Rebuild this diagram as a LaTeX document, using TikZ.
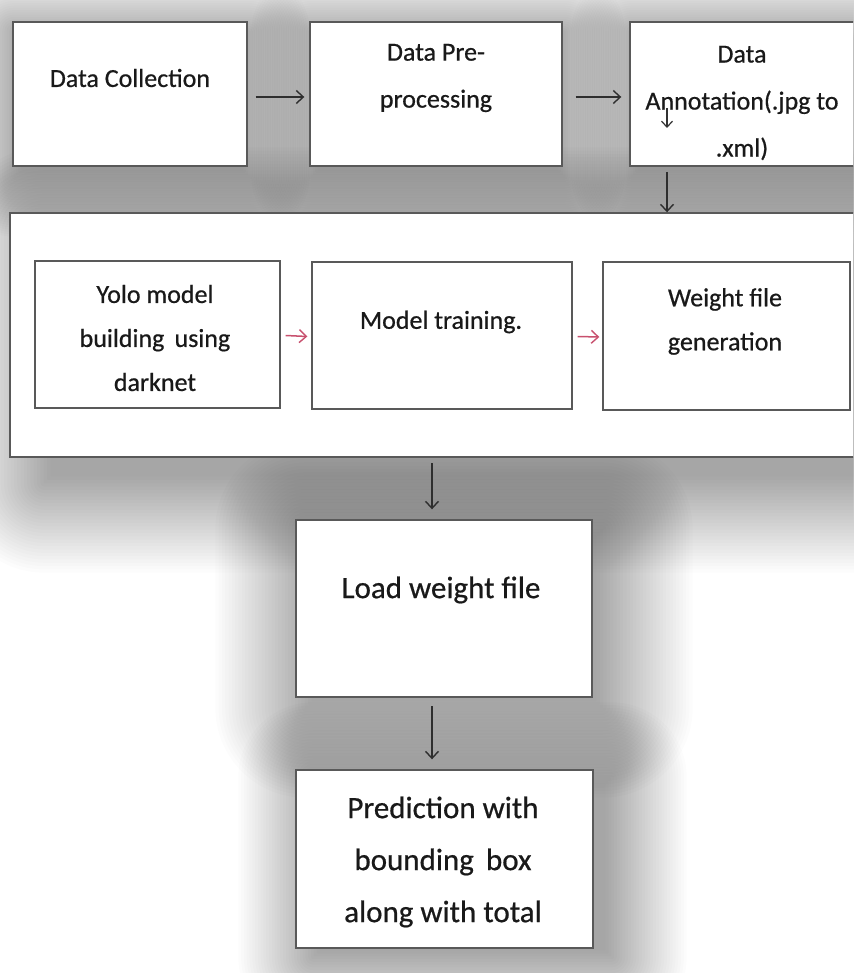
\documentclass[tikz,border=0pt]{standalone}
\usepackage{fontspec}
\setmainfont{Carlito}[FakeBold=0.6]
\usetikzlibrary{arrows.meta,backgrounds,calc}
\definecolor{redarr}{HTML}{C8506E}
\tikzset{
  box/.style={draw=black!65, line width=1.4pt, fill=white, inner sep=0pt},
  txt/.style={align=center, inner sep=0pt, text=black!90},
  fa/.style={font=\fontsize{26}{47}\selectfont},
  fb/.style={font=\fontsize{26}{44}\selectfont},
  fc/.style={font=\fontsize{31}{52}\selectfont},
  arr/.style={-{Straight Barb[length=7pt,width=13pt,line width=1.4pt]}, line width=1.5pt, draw=black!82},
  redar/.style={arr, draw=redarr},
}
% #1 node, #2 dx, #3 dy, #4 max spread, #5 opacity per layer
\newcommand\blurshadow[5]{%
  \foreach \i in {0,...,29}{%
    \pgfmathsetmacro\e{-6+(#4+6)*\i/29}%
    \pgfmathsetmacro\nx{#2-\e}%
    \pgfmathsetmacro\ny{#3-\e}%
    \pgfmathsetmacro\sx{#2+\e}%
    \pgfmathsetmacro\sy{#3+\e}%
    \pgfmathsetmacro\rc{max(1,\e)}%
    \fill[black,opacity=#5,rounded corners=\rc pt]
      ([shift={(\nx,\ny)}]#1.north west) rectangle ([shift={(\sx,\sy)}]#1.south east);
  }%
}
\begin{document}
\begin{tikzpicture}[x=1pt,y=-1pt]
\useasboundingbox (0,0) rectangle (853,973);
\clip (0,0) rectangle (853,973);
% top row
\node[box,minimum width=234pt,minimum height=144pt] (dc) at (130,94) {};
\node[box,minimum width=252pt,minimum height=144pt] (dp) at (436,94) {};
\node[box,minimum width=232pt,minimum height=144pt] (da) at (746,94) {};
\node[txt,fa] (tdc) at (130,78) {Data Collection};
\node[txt,fa] (tdp) at (436,78) {Data Pre-\\processing};
\node[txt,fa] (tda) at (742,103) {Data\\Annotation(.jpg to\\.xml)};
% container
\node[box,minimum width=860pt,minimum height=244pt] (cont) at (440,335) {};
\node[box,minimum width=245pt,minimum height=147pt] (yolo) at (157.5,334.5) {};
\node[box,minimum width=260pt,minimum height=147pt] (mt) at (442,335.5) {};
\node[box,minimum width=247pt,minimum height=148pt] (wf) at (726.5,336) {};
\node[txt,fb] (tyolo) at (155,338) {Yolo model\\building\, using\\darknet};
\node[txt,fb] (tmt) at (441,322) {Model training.};
\node[txt,fb] (twf) at (725,321.5) {Weight file\\generation};
% bottom
\node[box,minimum width=296pt,minimum height=177pt] (lw) at (444,608.5) {};
\node[box,minimum width=297pt,minimum height=178pt] (pr) at (444.5,859) {};
\node[txt,fc] (tlw) at (441,590) {Load weight file};
\node[txt,fc] (tpr) at (443,862) {Prediction with\\bounding\, box\\along with total};
% connectors
\draw[arr] ([xshift=8pt,yshift=-3pt]dc.east) -- ([xshift=-5pt,yshift=-3pt]dp.west);
\draw[arr] ([xshift=13pt,yshift=-3pt]dp.east) -- ([xshift=-8pt,yshift=-3pt]da.west);
\coordinate (s1) at (667,108);
\coordinate (s2) at (667,128);
\draw[-{Straight Barb[length=6pt,width=11pt,line width=1.2pt]}, line width=1.2pt, draw=black!80] (s1) -- (s2);
\coordinate (a1) at (667,172);
\draw[arr] (a1) -- (a1 |- cont.north);
\draw[redar] ([xshift=5pt,yshift=-1pt]yolo.east) -- ([xshift=-4pt,yshift=-1pt]mt.west);
\draw[redar] ([xshift=5pt,yshift=-1pt]mt.east) -- ([xshift=-3pt,yshift=-1pt]wf.west);
\coordinate (a2) at (432,463);
\draw[arr, shorten >=10pt] (a2) -- (a2 |- lw.north);
\coordinate (a3) at (432,706);
\draw[arr, shorten >=10pt] (a3) -- (a3 |- pr.north);
% shadows
\begin{pgfonlayer}{background}
  \fill[white] (0,0) rectangle (853,973);
  \blurshadow{dc}{2}{10}{60}{0.010}
  \blurshadow{dp}{2}{10}{60}{0.010}
  \blurshadow{da}{2}{10}{60}{0.010}
  \blurshadow{cont}{35}{25}{90}{0.011}
  \blurshadow{lw}{10}{10}{90}{0.010}
  \blurshadow{pr}{18}{8}{75}{0.011}
\end{pgfonlayer}
\end{tikzpicture}
\end{document}
